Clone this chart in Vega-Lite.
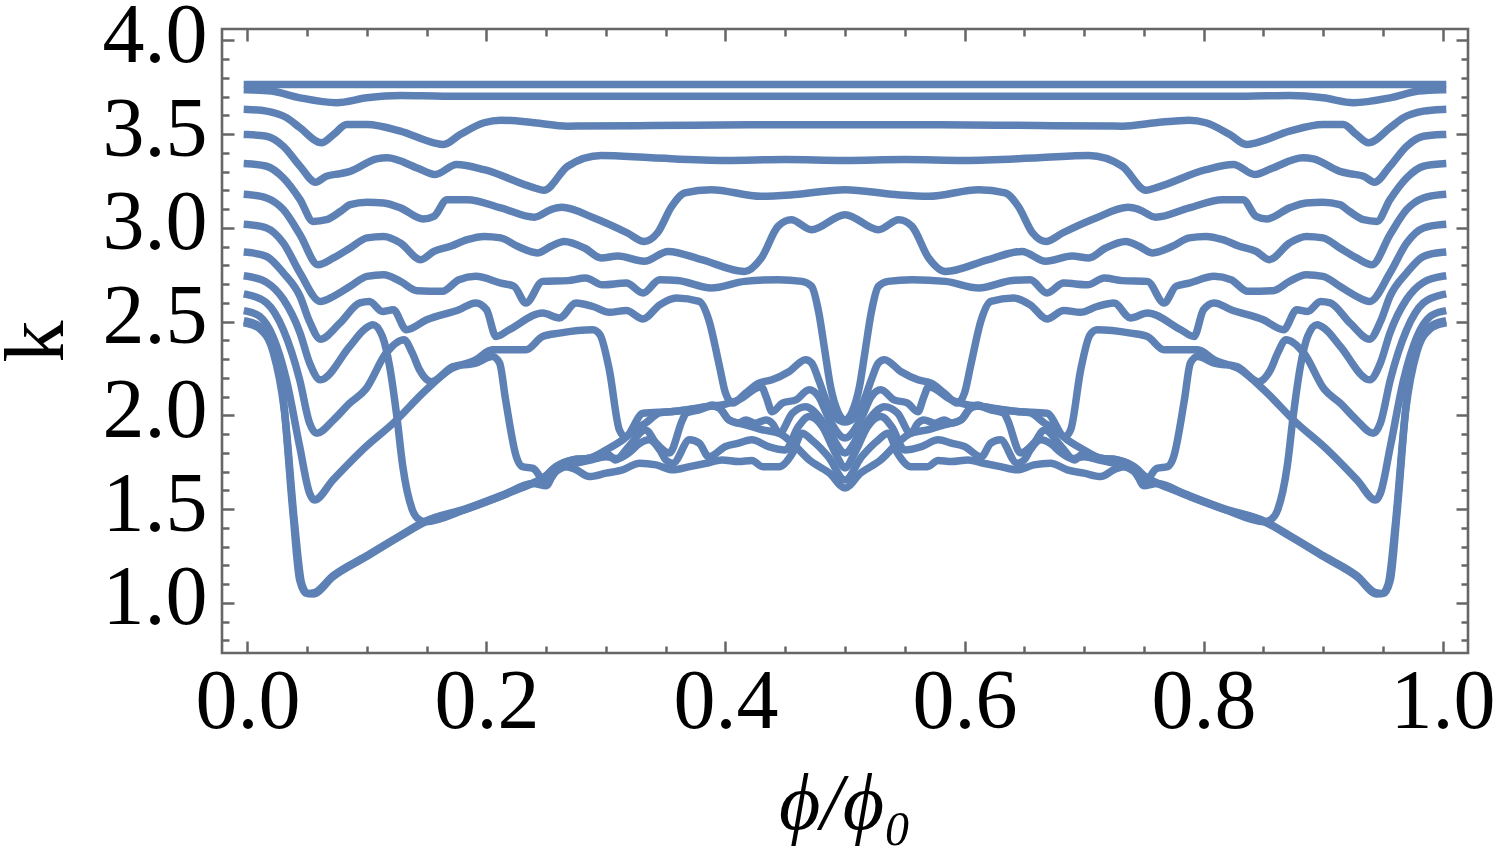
{
  "$schema": "https://vega.github.io/schema/vega-lite/v6.json",
  "width": 1246,
  "height": 624,
  "autosize": {"type": "none"},
  "padding": {"left": 222, "top": 29, "right": 32, "bottom": 206},
  "background": "white",
  "config": {
    "view": {"stroke": "#666666", "strokeWidth": 2.6},
    "font": "Liberation Serif"
  },
  "datasets": {
    "curves": [
      {"c":"A","x":0,"k":3.765},{"c":"A","x":0.5,"k":3.765},{"c":"A","x":1,"k":3.765},

      {"c":"B","x":0,"k":3.737},{"c":"B","x":0.02,"k":3.73},{"c":"B","x":0.044,"k":3.694},{"c":"B","x":0.0745,"k":3.668},{"c":"B","x":0.1,"k":3.694},{"c":"B","x":0.128,"k":3.706},{"c":"B","x":0.164,"k":3.703},{"c":"B","x":0.3,"k":3.703},{"c":"B","x":0.5,"k":3.703},{"c":"B","x":0.7,"k":3.703},{"c":"B","x":0.836,"k":3.703},{"c":"B","x":0.872,"k":3.706},{"c":"B","x":0.9,"k":3.694},{"c":"B","x":0.9255,"k":3.668},{"c":"B","x":0.956,"k":3.694},{"c":"B","x":0.98,"k":3.73},{"c":"B","x":1,"k":3.737},

      {"c":"C","x":0,"k":3.632},{"c":"C","x":0.016,"k":3.623},{"c":"C","x":0.033,"k":3.587},{"c":"C","x":0.044,"k":3.534},{"c":"C","x":0.062,"k":3.454},{"c":"C","x":0.072,"k":3.498},{"c":"C","x":0.083,"k":3.552},{"c":"C","x":0.1,"k":3.552},{"c":"C","x":0.128,"k":3.516},{"c":"C","x":0.156,"k":3.454},{"c":"C","x":0.164,"k":3.445},{"c":"C","x":0.178,"k":3.498},{"c":"C","x":0.198,"k":3.561},{"c":"C","x":0.212,"k":3.575},{"c":"C","x":0.24,"k":3.561},{"c":"C","x":0.268,"k":3.543},{"c":"C","x":0.338,"k":3.546},{"c":"C","x":0.42,"k":3.55},{"c":"C","x":0.5,"k":3.55},{"c":"C","x":0.58,"k":3.55},{"c":"C","x":0.662,"k":3.546},{"c":"C","x":0.732,"k":3.543},{"c":"C","x":0.76,"k":3.561},{"c":"C","x":0.788,"k":3.575},{"c":"C","x":0.802,"k":3.561},{"c":"C","x":0.822,"k":3.498},{"c":"C","x":0.836,"k":3.445},{"c":"C","x":0.844,"k":3.454},{"c":"C","x":0.872,"k":3.516},{"c":"C","x":0.9,"k":3.552},{"c":"C","x":0.917,"k":3.552},{"c":"C","x":0.928,"k":3.498},{"c":"C","x":0.938,"k":3.454},{"c":"C","x":0.956,"k":3.534},{"c":"C","x":0.967,"k":3.587},{"c":"C","x":0.984,"k":3.623},{"c":"C","x":1,"k":3.632},

      {"c":"D","x":0,"k":3.498},{"c":"D","x":0.016,"k":3.489},{"c":"D","x":0.03,"k":3.436},{"c":"D","x":0.044,"k":3.329},{"c":"D","x":0.057,"k":3.244},{"c":"D","x":0.066,"k":3.276},{"c":"D","x":0.078,"k":3.29},{"c":"D","x":0.086,"k":3.302},{"c":"D","x":0.108,"k":3.368},{"c":"D","x":0.117,"k":3.374},{"c":"D","x":0.142,"k":3.32},{"c":"D","x":0.157,"k":3.285},{"c":"D","x":0.175,"k":3.338},{"c":"D","x":0.198,"k":3.311},{"c":"D","x":0.24,"k":3.214},{"c":"D","x":0.248,"k":3.201},{"c":"D","x":0.268,"k":3.329},{"c":"D","x":0.296,"k":3.386},{"c":"D","x":0.338,"k":3.374},{"c":"D","x":0.4,"k":3.36},{"c":"D","x":0.45,"k":3.365},{"c":"D","x":0.5,"k":3.36},{"c":"D","x":0.55,"k":3.365},{"c":"D","x":0.6,"k":3.36},{"c":"D","x":0.662,"k":3.374},{"c":"D","x":0.704,"k":3.386},{"c":"D","x":0.732,"k":3.329},{"c":"D","x":0.752,"k":3.201},{"c":"D","x":0.76,"k":3.214},{"c":"D","x":0.802,"k":3.311},{"c":"D","x":0.825,"k":3.338},{"c":"D","x":0.843,"k":3.285},{"c":"D","x":0.858,"k":3.32},{"c":"D","x":0.883,"k":3.374},{"c":"D","x":0.892,"k":3.368},{"c":"D","x":0.914,"k":3.302},{"c":"D","x":0.922,"k":3.29},{"c":"D","x":0.934,"k":3.276},{"c":"D","x":0.943,"k":3.244},{"c":"D","x":0.956,"k":3.329},{"c":"D","x":0.97,"k":3.436},{"c":"D","x":0.984,"k":3.489},{"c":"D","x":1,"k":3.498},

      {"c":"E","x":0,"k":3.342},{"c":"E","x":0.016,"k":3.329},{"c":"E","x":0.03,"k":3.267},{"c":"E","x":0.044,"k":3.151},{"c":"E","x":0.055,"k":3.035},{"c":"E","x":0.066,"k":3.044},{"c":"E","x":0.078,"k":3.089},{"c":"E","x":0.086,"k":3.124},{"c":"E","x":0.1,"k":3.137},{"c":"E","x":0.114,"k":3.133},{"c":"E","x":0.128,"k":3.107},{"c":"E","x":0.147,"k":3.048},{"c":"E","x":0.156,"k":3.062},{"c":"E","x":0.167,"k":3.151},{"c":"E","x":0.184,"k":3.151},{"c":"E","x":0.212,"k":3.107},{"c":"E","x":0.24,"k":3.057},{"c":"E","x":0.254,"k":3.098},{"c":"E","x":0.263,"k":3.11},{"c":"E","x":0.29,"k":3.053},{"c":"E","x":0.318,"k":2.973},{"c":"E","x":0.332,"k":2.928},{"c":"E","x":0.343,"k":2.973},{"c":"E","x":0.355,"k":3.115},{"c":"E","x":0.366,"k":3.187},{"c":"E","x":0.388,"k":3.204},{"c":"E","x":0.43,"k":3.169},{"c":"E","x":0.458,"k":3.178},{"c":"E","x":0.5,"k":3.204},{"c":"E","x":0.542,"k":3.178},{"c":"E","x":0.57,"k":3.169},{"c":"E","x":0.612,"k":3.204},{"c":"E","x":0.634,"k":3.187},{"c":"E","x":0.645,"k":3.115},{"c":"E","x":0.657,"k":2.973},{"c":"E","x":0.668,"k":2.928},{"c":"E","x":0.682,"k":2.973},{"c":"E","x":0.71,"k":3.053},{"c":"E","x":0.737,"k":3.11},{"c":"E","x":0.746,"k":3.098},{"c":"E","x":0.76,"k":3.057},{"c":"E","x":0.788,"k":3.107},{"c":"E","x":0.816,"k":3.151},{"c":"E","x":0.833,"k":3.151},{"c":"E","x":0.844,"k":3.062},{"c":"E","x":0.853,"k":3.048},{"c":"E","x":0.872,"k":3.107},{"c":"E","x":0.886,"k":3.133},{"c":"E","x":0.9,"k":3.137},{"c":"E","x":0.914,"k":3.124},{"c":"E","x":0.922,"k":3.089},{"c":"E","x":0.934,"k":3.044},{"c":"E","x":0.945,"k":3.035},{"c":"E","x":0.956,"k":3.151},{"c":"E","x":0.97,"k":3.267},{"c":"E","x":0.984,"k":3.329},{"c":"E","x":1,"k":3.342},

      {"c":"F","x":0,"k":3.178},{"c":"F","x":0.016,"k":3.16},{"c":"F","x":0.03,"k":3.098},{"c":"F","x":0.044,"k":2.964},{"c":"F","x":0.059,"k":2.804},{"c":"F","x":0.072,"k":2.84},{"c":"F","x":0.086,"k":2.893},{"c":"F","x":0.1,"k":2.947},{"c":"F","x":0.114,"k":2.955},{"c":"F","x":0.128,"k":2.92},{"c":"F","x":0.145,"k":2.831},{"c":"F","x":0.156,"k":2.875},{"c":"F","x":0.17,"k":2.902},{"c":"F","x":0.184,"k":2.938},{"c":"F","x":0.198,"k":2.955},{"c":"F","x":0.212,"k":2.947},{"c":"F","x":0.226,"k":2.902},{"c":"F","x":0.243,"k":2.867},{"c":"F","x":0.254,"k":2.902},{"c":"F","x":0.265,"k":2.928},{"c":"F","x":0.282,"k":2.893},{"c":"F","x":0.296,"k":2.84},{"c":"F","x":0.31,"k":2.85},{"c":"F","x":0.332,"k":2.822},{"c":"F","x":0.352,"k":2.875},{"c":"F","x":0.38,"k":2.831},{"c":"F","x":0.416,"k":2.768},{"c":"F","x":0.43,"k":2.84},{"c":"F","x":0.444,"k":3.009},{"c":"F","x":0.455,"k":3.044},{"c":"F","x":0.472,"k":2.991},{"c":"F","x":0.5,"k":3.071},{"c":"F","x":0.528,"k":2.991},{"c":"F","x":0.545,"k":3.044},{"c":"F","x":0.556,"k":3.009},{"c":"F","x":0.57,"k":2.84},{"c":"F","x":0.584,"k":2.768},{"c":"F","x":0.62,"k":2.831},{"c":"F","x":0.648,"k":2.875},{"c":"F","x":0.668,"k":2.822},{"c":"F","x":0.69,"k":2.85},{"c":"F","x":0.704,"k":2.84},{"c":"F","x":0.718,"k":2.893},{"c":"F","x":0.735,"k":2.928},{"c":"F","x":0.746,"k":2.902},{"c":"F","x":0.757,"k":2.867},{"c":"F","x":0.774,"k":2.902},{"c":"F","x":0.788,"k":2.947},{"c":"F","x":0.802,"k":2.955},{"c":"F","x":0.816,"k":2.938},{"c":"F","x":0.83,"k":2.902},{"c":"F","x":0.844,"k":2.875},{"c":"F","x":0.855,"k":2.831},{"c":"F","x":0.872,"k":2.92},{"c":"F","x":0.886,"k":2.955},{"c":"F","x":0.9,"k":2.947},{"c":"F","x":0.914,"k":2.893},{"c":"F","x":0.928,"k":2.84},{"c":"F","x":0.941,"k":2.804},{"c":"F","x":0.956,"k":2.964},{"c":"F","x":0.97,"k":3.098},{"c":"F","x":0.984,"k":3.16},{"c":"F","x":1,"k":3.178},

      {"c":"G","x":0,"k":3.018},{"c":"G","x":0.016,"k":3.0},{"c":"G","x":0.03,"k":2.92},{"c":"G","x":0.044,"k":2.76},{"c":"G","x":0.061,"k":2.608},{"c":"G","x":0.072,"k":2.635},{"c":"G","x":0.086,"k":2.689},{"c":"G","x":0.1,"k":2.742},{"c":"G","x":0.114,"k":2.751},{"c":"G","x":0.128,"k":2.715},{"c":"G","x":0.142,"k":2.665},{"c":"G","x":0.163,"k":2.662},{"c":"G","x":0.177,"k":2.724},{"c":"G","x":0.191,"k":2.742},{"c":"G","x":0.212,"k":2.706},{"c":"G","x":0.223,"k":2.689},{"c":"G","x":0.233,"k":2.6},{"c":"G","x":0.247,"k":2.715},{"c":"G","x":0.268,"k":2.719},{"c":"G","x":0.283,"k":2.733},{"c":"G","x":0.297,"k":2.697},{"c":"G","x":0.317,"k":2.706},{"c":"G","x":0.331,"k":2.653},{"c":"G","x":0.345,"k":2.724},{"c":"G","x":0.36,"k":2.72},{"c":"G","x":0.388,"k":2.68},{"c":"G","x":0.416,"k":2.715},{"c":"G","x":0.444,"k":2.724},{"c":"G","x":0.464,"k":2.715},{"c":"G","x":0.472,"k":2.689},{"c":"G","x":0.478,"k":2.55},{"c":"G","x":0.483,"k":2.35},{"c":"G","x":0.488,"k":2.15},{"c":"G","x":0.494,"k":2.02},{"c":"G","x":0.5,"k":1.975},{"c":"G","x":0.506,"k":2.02},{"c":"G","x":0.512,"k":2.15},{"c":"G","x":0.517,"k":2.35},{"c":"G","x":0.522,"k":2.55},{"c":"G","x":0.528,"k":2.689},{"c":"G","x":0.536,"k":2.715},{"c":"G","x":0.556,"k":2.724},{"c":"G","x":0.584,"k":2.715},{"c":"G","x":0.612,"k":2.68},{"c":"G","x":0.64,"k":2.72},{"c":"G","x":0.655,"k":2.724},{"c":"G","x":0.669,"k":2.653},{"c":"G","x":0.683,"k":2.706},{"c":"G","x":0.703,"k":2.697},{"c":"G","x":0.717,"k":2.733},{"c":"G","x":0.732,"k":2.719},{"c":"G","x":0.753,"k":2.715},{"c":"G","x":0.767,"k":2.6},{"c":"G","x":0.777,"k":2.689},{"c":"G","x":0.788,"k":2.706},{"c":"G","x":0.809,"k":2.742},{"c":"G","x":0.823,"k":2.724},{"c":"G","x":0.837,"k":2.662},{"c":"G","x":0.858,"k":2.665},{"c":"G","x":0.872,"k":2.715},{"c":"G","x":0.886,"k":2.751},{"c":"G","x":0.9,"k":2.742},{"c":"G","x":0.914,"k":2.689},{"c":"G","x":0.928,"k":2.635},{"c":"G","x":0.939,"k":2.608},{"c":"G","x":0.956,"k":2.76},{"c":"G","x":0.97,"k":2.92},{"c":"G","x":0.984,"k":3.0},{"c":"G","x":1,"k":3.018},

      {"c":"H","x":0,"k":2.87},{"c":"H","x":0.016,"k":2.848},{"c":"H","x":0.03,"k":2.76},{"c":"H","x":0.044,"k":2.635},{"c":"H","x":0.052,"k":2.5},{"c":"H","x":0.061,"k":2.407},{"c":"H","x":0.077,"k":2.49},{"c":"H","x":0.094,"k":2.6},{"c":"H","x":0.102,"k":2.608},{"c":"H","x":0.113,"k":2.555},{"c":"H","x":0.122,"k":2.564},{"c":"H","x":0.133,"k":2.457},{"c":"H","x":0.15,"k":2.51},{"c":"H","x":0.177,"k":2.564},{"c":"H","x":0.191,"k":2.6},{"c":"H","x":0.2,"k":2.564},{"c":"H","x":0.208,"k":2.421},{"c":"H","x":0.219,"k":2.457},{"c":"H","x":0.247,"k":2.546},{"c":"H","x":0.261,"k":2.52},{"c":"H","x":0.275,"k":2.6},{"c":"H","x":0.289,"k":2.581},{"c":"H","x":0.303,"k":2.55},{"c":"H","x":0.317,"k":2.56},{"c":"H","x":0.331,"k":2.515},{"c":"H","x":0.345,"k":2.59},{"c":"H","x":0.359,"k":2.626},{"c":"H","x":0.378,"k":2.608},{"c":"H","x":0.386,"k":2.51},{"c":"H","x":0.395,"k":2.261},{"c":"H","x":0.4,"k":2.12},{"c":"H","x":0.406,"k":2.066},{"c":"H","x":0.417,"k":2.12},{"c":"H","x":0.428,"k":2.172},{"c":"H","x":0.439,"k":2.19},{"c":"H","x":0.453,"k":2.233},{"c":"H","x":0.467,"k":2.297},{"c":"H","x":0.472,"k":2.28},{"c":"H","x":0.478,"k":2.19},{"c":"H","x":0.484,"k":2.083},{"c":"H","x":0.492,"k":1.99},{"c":"H","x":0.5,"k":1.965},{"c":"H","x":0.508,"k":1.99},{"c":"H","x":0.516,"k":2.083},{"c":"H","x":0.522,"k":2.19},{"c":"H","x":0.528,"k":2.28},{"c":"H","x":0.533,"k":2.297},{"c":"H","x":0.547,"k":2.233},{"c":"H","x":0.561,"k":2.19},{"c":"H","x":0.572,"k":2.172},{"c":"H","x":0.583,"k":2.12},{"c":"H","x":0.594,"k":2.066},{"c":"H","x":0.6,"k":2.12},{"c":"H","x":0.605,"k":2.261},{"c":"H","x":0.614,"k":2.51},{"c":"H","x":0.622,"k":2.608},{"c":"H","x":0.641,"k":2.626},{"c":"H","x":0.655,"k":2.59},{"c":"H","x":0.669,"k":2.515},{"c":"H","x":0.683,"k":2.56},{"c":"H","x":0.697,"k":2.55},{"c":"H","x":0.711,"k":2.581},{"c":"H","x":0.725,"k":2.6},{"c":"H","x":0.739,"k":2.52},{"c":"H","x":0.753,"k":2.546},{"c":"H","x":0.781,"k":2.457},{"c":"H","x":0.792,"k":2.421},{"c":"H","x":0.8,"k":2.564},{"c":"H","x":0.809,"k":2.6},{"c":"H","x":0.823,"k":2.564},{"c":"H","x":0.85,"k":2.51},{"c":"H","x":0.867,"k":2.457},{"c":"H","x":0.878,"k":2.564},{"c":"H","x":0.887,"k":2.555},{"c":"H","x":0.898,"k":2.608},{"c":"H","x":0.906,"k":2.6},{"c":"H","x":0.923,"k":2.49},{"c":"H","x":0.939,"k":2.407},{"c":"H","x":0.948,"k":2.5},{"c":"H","x":0.956,"k":2.635},{"c":"H","x":0.97,"k":2.76},{"c":"H","x":0.984,"k":2.848},{"c":"H","x":1,"k":2.87},

      {"c":"I","x":0,"k":2.742},{"c":"I","x":0.016,"k":2.71},{"c":"I","x":0.03,"k":2.62},{"c":"I","x":0.044,"k":2.44},{"c":"I","x":0.052,"k":2.28},{"c":"I","x":0.061,"k":2.19},{"c":"I","x":0.0855,"k":2.368},{"c":"I","x":0.098,"k":2.46},{"c":"I","x":0.105,"k":2.484},{"c":"I","x":0.113,"k":2.42},{"c":"I","x":0.119,"k":2.26},{"c":"I","x":0.125,"k":1.994},{"c":"I","x":0.13,"k":1.727},{"c":"I","x":0.138,"k":1.496},{"c":"I","x":0.144,"k":1.443},{"c":"I","x":0.149,"k":1.433},{"c":"I","x":0.183,"k":1.5},{"c":"I","x":0.211,"k":1.566},{"c":"I","x":0.2388,"k":1.637},{"c":"I","x":0.2443,"k":1.65},{"c":"I","x":0.258,"k":1.727},{"c":"I","x":0.272,"k":1.763},{"c":"I","x":0.286,"k":1.772},{"c":"I","x":0.3,"k":1.8},{"c":"I","x":0.308,"k":1.763},{"c":"I","x":0.319,"k":1.834},{"c":"I","x":0.333,"k":1.923},{"c":"I","x":0.342,"k":1.852},{"c":"I","x":0.353,"k":1.8},{"c":"I","x":0.364,"k":1.976},{"c":"I","x":0.367,"k":2.012},{"c":"I","x":0.378,"k":2.03},{"c":"I","x":0.389,"k":2.05},{"c":"I","x":0.395,"k":2.039},{"c":"I","x":0.403,"k":1.976},{"c":"I","x":0.411,"k":1.96},{"c":"I","x":0.417,"k":1.976},{"c":"I","x":0.425,"k":1.959},{"c":"I","x":0.434,"k":1.976},{"c":"I","x":0.439,"k":1.959},{"c":"I","x":0.445,"k":1.905},{"c":"I","x":0.456,"k":2.012},{"c":"I","x":0.467,"k":2.047},{"c":"I","x":0.478,"k":1.994},{"c":"I","x":0.489,"k":1.888},{"c":"I","x":0.5,"k":1.8},{"c":"I","x":0.511,"k":1.888},{"c":"I","x":0.522,"k":1.994},{"c":"I","x":0.533,"k":2.047},{"c":"I","x":0.544,"k":2.012},{"c":"I","x":0.555,"k":1.905},{"c":"I","x":0.561,"k":1.959},{"c":"I","x":0.566,"k":1.976},{"c":"I","x":0.575,"k":1.959},{"c":"I","x":0.583,"k":1.976},{"c":"I","x":0.589,"k":1.96},{"c":"I","x":0.597,"k":1.976},{"c":"I","x":0.605,"k":2.039},{"c":"I","x":0.611,"k":2.05},{"c":"I","x":0.622,"k":2.03},{"c":"I","x":0.633,"k":2.012},{"c":"I","x":0.636,"k":1.976},{"c":"I","x":0.647,"k":1.8},{"c":"I","x":0.658,"k":1.852},{"c":"I","x":0.667,"k":1.923},{"c":"I","x":0.681,"k":1.834},{"c":"I","x":0.692,"k":1.763},{"c":"I","x":0.7,"k":1.8},{"c":"I","x":0.714,"k":1.772},{"c":"I","x":0.728,"k":1.763},{"c":"I","x":0.742,"k":1.727},{"c":"I","x":0.7557,"k":1.65},{"c":"I","x":0.7612,"k":1.637},{"c":"I","x":0.789,"k":1.566},{"c":"I","x":0.817,"k":1.5},{"c":"I","x":0.851,"k":1.433},{"c":"I","x":0.856,"k":1.443},{"c":"I","x":0.862,"k":1.496},{"c":"I","x":0.87,"k":1.727},{"c":"I","x":0.875,"k":1.994},{"c":"I","x":0.881,"k":2.26},{"c":"I","x":0.887,"k":2.42},{"c":"I","x":0.895,"k":2.484},{"c":"I","x":0.902,"k":2.46},{"c":"I","x":0.9145,"k":2.368},{"c":"I","x":0.939,"k":2.19},{"c":"I","x":0.948,"k":2.28},{"c":"I","x":0.956,"k":2.44},{"c":"I","x":0.97,"k":2.62},{"c":"I","x":0.984,"k":2.71},{"c":"I","x":1,"k":2.742},

      {"c":"J","x":0,"k":2.644},{"c":"J","x":0.016,"k":2.6},{"c":"J","x":0.03,"k":2.457},{"c":"J","x":0.0437,"k":2.19},{"c":"J","x":0.052,"k":1.959},{"c":"J","x":0.058,"k":1.905},{"c":"J","x":0.072,"k":1.976},{"c":"J","x":0.0855,"k":2.065},{"c":"J","x":0.099,"k":2.14},{"c":"J","x":0.116,"k":2.332},{"c":"J","x":0.131,"k":2.404},{"c":"J","x":0.138,"k":2.332},{"c":"J","x":0.144,"k":2.243},{"c":"J","x":0.154,"k":2.18},{"c":"J","x":0.172,"k":2.26},{"c":"J","x":0.191,"k":2.279},{"c":"J","x":0.205,"k":2.314},{"c":"J","x":0.211,"k":2.279},{"c":"J","x":0.216,"k":2.083},{"c":"J","x":0.225,"k":1.78},{"c":"J","x":0.23,"k":1.727},{"c":"J","x":0.239,"k":1.718},{"c":"J","x":0.25,"k":1.639},{"c":"J","x":0.258,"k":1.7},{"c":"J","x":0.272,"k":1.74},{"c":"J","x":0.286,"k":1.76},{"c":"J","x":0.3,"k":1.78},{"c":"J","x":0.31,"k":1.77},{"c":"J","x":0.319,"k":1.8},{"c":"J","x":0.328,"k":1.85},{"c":"J","x":0.336,"k":1.87},{"c":"J","x":0.345,"k":1.816},{"c":"J","x":0.35,"k":1.763},{"c":"J","x":0.356,"k":1.745},{"c":"J","x":0.37,"k":1.87},{"c":"J","x":0.378,"k":1.852},{"c":"J","x":0.386,"k":1.78},{"c":"J","x":0.4,"k":1.834},{"c":"J","x":0.411,"k":1.852},{"c":"J","x":0.422,"k":1.87},{"c":"J","x":0.436,"k":1.834},{"c":"J","x":0.45,"k":1.816},{"c":"J","x":0.461,"k":1.941},{"c":"J","x":0.47,"k":1.994},{"c":"J","x":0.481,"k":1.941},{"c":"J","x":0.492,"k":1.798},{"c":"J","x":0.5,"k":1.72},{"c":"J","x":0.508,"k":1.798},{"c":"J","x":0.519,"k":1.941},{"c":"J","x":0.53,"k":1.994},{"c":"J","x":0.539,"k":1.941},{"c":"J","x":0.55,"k":1.816},{"c":"J","x":0.564,"k":1.834},{"c":"J","x":0.578,"k":1.87},{"c":"J","x":0.589,"k":1.852},{"c":"J","x":0.6,"k":1.834},{"c":"J","x":0.614,"k":1.78},{"c":"J","x":0.622,"k":1.852},{"c":"J","x":0.63,"k":1.87},{"c":"J","x":0.644,"k":1.745},{"c":"J","x":0.65,"k":1.763},{"c":"J","x":0.655,"k":1.816},{"c":"J","x":0.664,"k":1.87},{"c":"J","x":0.672,"k":1.85},{"c":"J","x":0.681,"k":1.8},{"c":"J","x":0.69,"k":1.77},{"c":"J","x":0.7,"k":1.78},{"c":"J","x":0.714,"k":1.76},{"c":"J","x":0.728,"k":1.74},{"c":"J","x":0.742,"k":1.7},{"c":"J","x":0.75,"k":1.639},{"c":"J","x":0.761,"k":1.718},{"c":"J","x":0.77,"k":1.727},{"c":"J","x":0.775,"k":1.78},{"c":"J","x":0.784,"k":2.083},{"c":"J","x":0.789,"k":2.279},{"c":"J","x":0.795,"k":2.314},{"c":"J","x":0.809,"k":2.279},{"c":"J","x":0.828,"k":2.26},{"c":"J","x":0.846,"k":2.18},{"c":"J","x":0.856,"k":2.243},{"c":"J","x":0.862,"k":2.332},{"c":"J","x":0.869,"k":2.404},{"c":"J","x":0.884,"k":2.332},{"c":"J","x":0.901,"k":2.14},{"c":"J","x":0.9145,"k":2.065},{"c":"J","x":0.928,"k":1.976},{"c":"J","x":0.942,"k":1.905},{"c":"J","x":0.948,"k":1.959},{"c":"J","x":0.9563,"k":2.19},{"c":"J","x":0.97,"k":2.457},{"c":"J","x":0.984,"k":2.6},{"c":"J","x":1,"k":2.644},

      {"c":"K","x":0,"k":2.555},{"c":"K","x":0.0103,"k":2.528},{"c":"K","x":0.0214,"k":2.42},{"c":"K","x":0.0326,"k":2.19},{"c":"K","x":0.0437,"k":1.834},{"c":"K","x":0.052,"k":1.585},{"c":"K","x":0.056,"k":1.549},{"c":"K","x":0.0716,"k":1.656},{"c":"K","x":0.0993,"k":1.834},{"c":"K","x":0.122,"k":1.959},{"c":"K","x":0.1496,"k":2.137},{"c":"K","x":0.169,"k":2.243},{"c":"K","x":0.191,"k":2.297},{"c":"K","x":0.205,"k":2.35},{"c":"K","x":0.233,"k":2.35},{"c":"K","x":0.247,"k":2.421},{"c":"K","x":0.261,"k":2.439},{"c":"K","x":0.289,"k":2.457},{"c":"K","x":0.295,"k":2.43},{"c":"K","x":0.3028,"k":2.243},{"c":"K","x":0.3112,"k":1.923},{"c":"K","x":0.316,"k":1.887},{"c":"K","x":0.331,"k":2.012},{"c":"K","x":0.356,"k":2.021},{"c":"K","x":0.384,"k":2.047},{"c":"K","x":0.4,"k":2.06},{"c":"K","x":0.411,"k":2.083},{"c":"K","x":0.43,"k":2.153},{"c":"K","x":0.434,"k":2.1},{"c":"K","x":0.439,"k":2.02},{"c":"K","x":0.448,"k":2.067},{"c":"K","x":0.459,"k":2.083},{"c":"K","x":0.47,"k":2.137},{"c":"K","x":0.478,"k":2.1},{"c":"K","x":0.486,"k":1.99},{"c":"K","x":0.5,"k":1.88},{"c":"K","x":0.514,"k":1.99},{"c":"K","x":0.522,"k":2.1},{"c":"K","x":0.53,"k":2.137},{"c":"K","x":0.541,"k":2.083},{"c":"K","x":0.552,"k":2.067},{"c":"K","x":0.561,"k":2.02},{"c":"K","x":0.566,"k":2.1},{"c":"K","x":0.57,"k":2.153},{"c":"K","x":0.589,"k":2.083},{"c":"K","x":0.6,"k":2.06},{"c":"K","x":0.616,"k":2.047},{"c":"K","x":0.644,"k":2.021},{"c":"K","x":0.669,"k":2.012},{"c":"K","x":0.684,"k":1.887},{"c":"K","x":0.6888,"k":1.923},{"c":"K","x":0.6972,"k":2.243},{"c":"K","x":0.705,"k":2.43},{"c":"K","x":0.711,"k":2.457},{"c":"K","x":0.739,"k":2.439},{"c":"K","x":0.753,"k":2.421},{"c":"K","x":0.767,"k":2.35},{"c":"K","x":0.795,"k":2.35},{"c":"K","x":0.809,"k":2.297},{"c":"K","x":0.831,"k":2.243},{"c":"K","x":0.8504,"k":2.137},{"c":"K","x":0.878,"k":1.959},{"c":"K","x":0.9007,"k":1.834},{"c":"K","x":0.9284,"k":1.656},{"c":"K","x":0.944,"k":1.549},{"c":"K","x":0.948,"k":1.585},{"c":"K","x":0.9563,"k":1.834},{"c":"K","x":0.9674,"k":2.19},{"c":"K","x":0.9786,"k":2.42},{"c":"K","x":0.9897,"k":2.528},{"c":"K","x":1,"k":2.555},

      {"c":"L1","x":0,"k":2.501},{"c":"L1","x":0.0103,"k":2.474},{"c":"L1","x":0.0214,"k":2.367},{"c":"L1","x":0.0298,"k":2.1},{"c":"L1","x":0.0381,"k":1.478},{"c":"L1","x":0.0437,"k":1.122},{"c":"L1","x":0.0493,"k":1.051},{"c":"L1","x":0.055,"k":1.048},{"c":"L1","x":0.0716,"k":1.14},{"c":"L1","x":0.0993,"k":1.246},{"c":"L1","x":0.127,"k":1.353},{"c":"L1","x":0.149,"k":1.433},{"c":"L1","x":0.183,"k":1.5},{"c":"L1","x":0.211,"k":1.566},{"c":"L1","x":0.2388,"k":1.637},{"c":"L1","x":0.25,"k":1.625},{"c":"L1","x":0.258,"k":1.72},{"c":"L1","x":0.272,"k":1.763},{"c":"L1","x":0.286,"k":1.772},{"c":"L1","x":0.3,"k":1.816},{"c":"L1","x":0.314,"k":1.87},{"c":"L1","x":0.328,"k":1.941},{"c":"L1","x":0.333,"k":1.959},{"c":"L1","x":0.345,"k":2.014},{"c":"L1","x":0.356,"k":2.021},{"c":"L1","x":0.37,"k":2.03},{"c":"L1","x":0.384,"k":2.047},{"c":"L1","x":0.389,"k":2.056},{"c":"L1","x":0.395,"k":2.039},{"c":"L1","x":0.403,"k":1.976},{"c":"L1","x":0.417,"k":1.95},{"c":"L1","x":0.431,"k":1.923},{"c":"L1","x":0.445,"k":1.905},{"c":"L1","x":0.456,"k":1.852},{"c":"L1","x":0.47,"k":1.763},{"c":"L1","x":0.487,"k":1.692},{"c":"L1","x":0.5,"k":1.613},{"c":"L1","x":0.513,"k":1.692},{"c":"L1","x":0.53,"k":1.763},{"c":"L1","x":0.544,"k":1.852},{"c":"L1","x":0.555,"k":1.905},{"c":"L1","x":0.569,"k":1.923},{"c":"L1","x":0.583,"k":1.95},{"c":"L1","x":0.597,"k":1.976},{"c":"L1","x":0.605,"k":2.039},{"c":"L1","x":0.611,"k":2.056},{"c":"L1","x":0.616,"k":2.047},{"c":"L1","x":0.63,"k":2.03},{"c":"L1","x":0.644,"k":2.021},{"c":"L1","x":0.655,"k":2.014},{"c":"L1","x":0.667,"k":1.959},{"c":"L1","x":0.672,"k":1.941},{"c":"L1","x":0.686,"k":1.87},{"c":"L1","x":0.7,"k":1.816},{"c":"L1","x":0.714,"k":1.772},{"c":"L1","x":0.728,"k":1.763},{"c":"L1","x":0.742,"k":1.72},{"c":"L1","x":0.75,"k":1.625},{"c":"L1","x":0.7612,"k":1.637},{"c":"L1","x":0.789,"k":1.566},{"c":"L1","x":0.817,"k":1.5},{"c":"L1","x":0.851,"k":1.433},{"c":"L1","x":0.873,"k":1.353},{"c":"L1","x":0.9007,"k":1.246},{"c":"L1","x":0.9284,"k":1.14},{"c":"L1","x":0.945,"k":1.048},{"c":"L1","x":0.9507,"k":1.051},{"c":"L1","x":0.9563,"k":1.122},{"c":"L1","x":0.9619,"k":1.478},{"c":"L1","x":0.9702,"k":2.1},{"c":"L1","x":0.9786,"k":2.367},{"c":"L1","x":0.9897,"k":2.474},{"c":"L1","x":1,"k":2.501},

      {"c":"L2","x":0,"k":2.49},{"c":"L2","x":0.0103,"k":2.462},{"c":"L2","x":0.0214,"k":2.34},{"c":"L2","x":0.031,"k":2.02},{"c":"L2","x":0.0395,"k":1.42},{"c":"L2","x":0.0455,"k":1.1},{"c":"L2","x":0.0505,"k":1.05},{"c":"L2","x":0.056,"k":1.055},{"c":"L2","x":0.0716,"k":1.145},{"c":"L2","x":0.0993,"k":1.25},{"c":"L2","x":0.127,"k":1.356},{"c":"L2","x":0.149,"k":1.436},{"c":"L2","x":0.183,"k":1.503},{"c":"L2","x":0.211,"k":1.57},{"c":"L2","x":0.2388,"k":1.64},{"c":"L2","x":0.2443,"k":1.656},{"c":"L2","x":0.258,"k":1.71},{"c":"L2","x":0.2666,"k":1.727},{"c":"L2","x":0.275,"k":1.71},{"c":"L2","x":0.286,"k":1.674},{"c":"L2","x":0.3,"k":1.692},{"c":"L2","x":0.314,"k":1.71},{"c":"L2","x":0.328,"k":1.745},{"c":"L2","x":0.342,"k":1.736},{"c":"L2","x":0.356,"k":1.71},{"c":"L2","x":0.37,"k":1.727},{"c":"L2","x":0.384,"k":1.745},{"c":"L2","x":0.397,"k":1.763},{"c":"L2","x":0.411,"k":1.754},{"c":"L2","x":0.422,"k":1.76},{"c":"L2","x":0.431,"k":1.727},{"c":"L2","x":0.445,"k":1.727},{"c":"L2","x":0.456,"k":1.798},{"c":"L2","x":0.464,"k":1.905},{"c":"L2","x":0.472,"k":1.87},{"c":"L2","x":0.486,"k":1.78},{"c":"L2","x":0.5,"k":1.656},{"c":"L2","x":0.514,"k":1.78},{"c":"L2","x":0.528,"k":1.87},{"c":"L2","x":0.536,"k":1.905},{"c":"L2","x":0.544,"k":1.798},{"c":"L2","x":0.555,"k":1.727},{"c":"L2","x":0.569,"k":1.727},{"c":"L2","x":0.578,"k":1.76},{"c":"L2","x":0.589,"k":1.754},{"c":"L2","x":0.603,"k":1.763},{"c":"L2","x":0.616,"k":1.745},{"c":"L2","x":0.63,"k":1.727},{"c":"L2","x":0.644,"k":1.71},{"c":"L2","x":0.658,"k":1.736},{"c":"L2","x":0.672,"k":1.745},{"c":"L2","x":0.686,"k":1.71},{"c":"L2","x":0.7,"k":1.692},{"c":"L2","x":0.714,"k":1.674},{"c":"L2","x":0.725,"k":1.71},{"c":"L2","x":0.7334,"k":1.727},{"c":"L2","x":0.742,"k":1.71},{"c":"L2","x":0.7557,"k":1.656},{"c":"L2","x":0.7612,"k":1.64},{"c":"L2","x":0.789,"k":1.57},{"c":"L2","x":0.817,"k":1.503},{"c":"L2","x":0.851,"k":1.436},{"c":"L2","x":0.873,"k":1.356},{"c":"L2","x":0.9007,"k":1.25},{"c":"L2","x":0.9284,"k":1.145},{"c":"L2","x":0.944,"k":1.055},{"c":"L2","x":0.9495,"k":1.05},{"c":"L2","x":0.9545,"k":1.1},{"c":"L2","x":0.9605,"k":1.42},{"c":"L2","x":0.969,"k":2.02},{"c":"L2","x":0.9786,"k":2.34},{"c":"L2","x":0.9897,"k":2.462},{"c":"L2","x":1,"k":2.49}
    ]
  },
  "layer": [
    {
      "data": {"name": "curves"},
      "mark": {"type": "line", "color": "#5E81B5", "strokeWidth": 7.5, "interpolate": "monotone", "strokeCap": "square", "strokeJoin": "round", "clip": true},
      "encoding": {
        "x": {
          "field": "x", "type": "quantitative",
          "scale": {"domain": [-0.0213, 1.0213], "nice": false, "zero": false},
          "axis": {
            "orient": "bottom",
            "values": [0,0.05,0.1,0.15,0.2,0.25,0.3,0.35,0.4,0.45,0.5,0.55,0.6,0.65,0.7,0.75,0.8,0.85,0.9,0.95,1],
            "domain": false, "grid": false,
            "tickColor": "#666666", "tickWidth": 2.5,
            "tickSize": {"condition": {"test": "abs(datum.value*5 - round(datum.value*5)) < 0.001", "value": -12}, "value": -7},
            "labelExpr": "abs(datum.value*5 - round(datum.value*5)) < 0.001 ? format(datum.value, '.1f') : ''",
            "labelFont": "Liberation Serif", "labelFontSize": 84, "labelColor": "#000000",
            "labelPadding": 20, "labelOverlap": false, "labelFlush": false, "labelBound": false,
            "title": "ϕ/ϕ₀", "titleFont": "Liberation Serif", "titleFontSize": 80,
            "titleFontStyle": "italic", "titleFontWeight": "normal", "titleColor": "#000000", "titlePadding": 16
          }
        },
        "y": {
          "field": "k", "type": "quantitative",
          "scale": {"domain": [0.733, 4.061], "nice": false, "zero": false},
          "axis": {
            "orient": "left",
            "values": [0.8,0.9,1,1.1,1.2,1.3,1.4,1.5,1.6,1.7,1.8,1.9,2,2.1,2.2,2.3,2.4,2.5,2.6,2.7,2.8,2.9,3,3.1,3.2,3.3,3.4,3.5,3.6,3.7,3.8,3.9,4],
            "domain": false, "grid": false,
            "tickColor": "#666666", "tickWidth": 2.5,
            "tickSize": {"condition": {"test": "abs(datum.value*2 - round(datum.value*2)) < 0.001", "value": -12}, "value": -7},
            "labelExpr": "abs(datum.value*2 - round(datum.value*2)) < 0.001 ? format(datum.value, '.1f') : ''",
            "labelFont": "Liberation Serif", "labelFontSize": 84, "labelColor": "#000000",
            "labelPadding": 27, "labelOffset": -4, "labelOverlap": false, "labelFlush": false, "labelBound": false,
            "title": "k", "titleFont": "Liberation Serif", "titleFontSize": 84,
            "titleFontWeight": "normal", "titleColor": "#000000", "titlePadding": 22
          }
        },
        "detail": {"field": "c", "type": "nominal"}
      }
    },
    {
      "data": {"values": [{"x": 0.5, "k": 2}]},
      "mark": {"type": "point", "opacity": 0},
      "encoding": {
        "x": {
          "field": "x", "type": "quantitative",
          "scale": {"domain": [-0.0213, 1.0213], "nice": false, "zero": false},
          "axis": {
            "orient": "top",
            "values": [0,0.05,0.1,0.15,0.2,0.25,0.3,0.35,0.4,0.45,0.5,0.55,0.6,0.65,0.7,0.75,0.8,0.85,0.9,0.95,1],
            "domain": false, "grid": false, "labels": false, "title": null,
            "tickColor": "#666666", "tickWidth": 2.5,
            "tickSize": {"condition": {"test": "abs(datum.value*5 - round(datum.value*5)) < 0.001", "value": -12}, "value": -7}
          }
        },
        "y": {
          "field": "k", "type": "quantitative",
          "scale": {"domain": [0.733, 4.061], "nice": false, "zero": false},
          "axis": {
            "orient": "right",
            "values": [0.8,0.9,1,1.1,1.2,1.3,1.4,1.5,1.6,1.7,1.8,1.9,2,2.1,2.2,2.3,2.4,2.5,2.6,2.7,2.8,2.9,3,3.1,3.2,3.3,3.4,3.5,3.6,3.7,3.8,3.9,4],
            "domain": false, "grid": false, "labels": false, "title": null,
            "tickColor": "#666666", "tickWidth": 2.5,
            "tickSize": {"condition": {"test": "abs(datum.value*2 - round(datum.value*2)) < 0.001", "value": -12}, "value": -7}
          }
        }
      }
    }
  ],
  "resolve": {"axis": {"x": "independent", "y": "independent"}}
}
